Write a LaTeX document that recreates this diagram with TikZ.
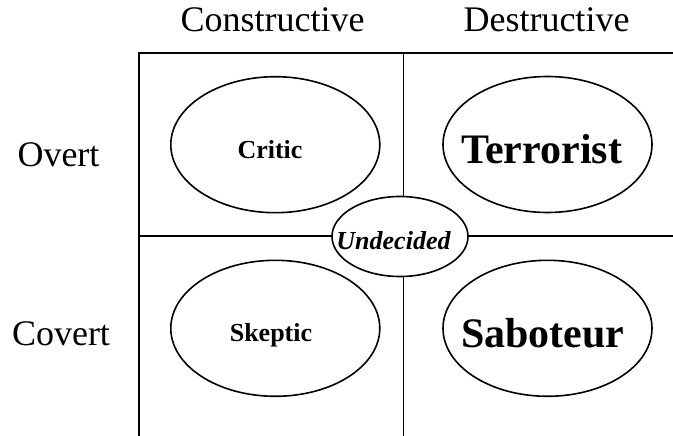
\documentclass[tikz,border=0pt]{standalone}
\usepackage{fontspec}
\setmainfont{Liberation Serif}
\usetikzlibrary{shapes.geometric}
\tikzset{
  grid/.style={line width=1.8pt, black},
  oval/.style={draw, ellipse, line width=1.6pt, fill=white, inner sep=0pt},
  bigoval/.style={oval, minimum width=209pt, minimum height=136pt},
  axislabel/.style={anchor=base, inner sep=0pt, font=\fontsize{36}{40}\selectfont},
  smallname/.style={anchor=base, inner sep=0pt, font=\fontsize{26}{30}\selectfont\bfseries},
  bigname/.style={anchor=base, inner sep=0pt, font=\fontsize{42}{46}\selectfont\bfseries}
}
\begin{document}
\begin{tikzpicture}[x=1pt,y=-1pt]
  \useasboundingbox (0,0) rectangle (673,436);

  % quadrant frame and dividers
  \draw[grid] (139.3,52.7) rectangle (676,436.5);
  \draw[grid] (403.5,52.7) -- (403.5,440);
  \draw[grid] (139.3,236) -- (680,236);

  % column and row headings
  \node[axislabel] (constructive) at (272.5,32) {Constructive};
  \node[axislabel] (destructive)  at (546.5,32) {Destructive};
  \node[axislabel] (overt)  at (58.5,166.7) {Overt};
  \node[axislabel] (covert) at (61,345) {Covert};

  % quadrant ellipses
  \node[bigoval] (criticoval)   at (275.3,144.7) {};
  \node[bigoval] (terroristoval) at (547.5,144.5) {};
  \node[bigoval] (skepticoval)  at (275.3,328.3) {};
  \node[bigoval] (saboteuroval) at (547.5,328.3) {};

  \node[smallname] (critic)    at (270,158.3) {Critic};
  \node[bigname]   (terrorist) at (541.5,163.3) {Terrorist};
  \node[smallname] (skeptic)   at (271,341.7) {Skeptic};
  \node[bigname]   (saboteur)  at (542.7,347.3) {Saboteur};

  % centre ellipse sitting on the crossing
  \node[oval, minimum width=136pt, minimum height=80pt] (undecidedoval) at (400,236.5) {};
  \node[smallname, font=\fontsize{26}{30}\selectfont\bfseries\itshape] (undecided) at (393.5,249.3) {Undecided};
\end{tikzpicture}
\end{document}
